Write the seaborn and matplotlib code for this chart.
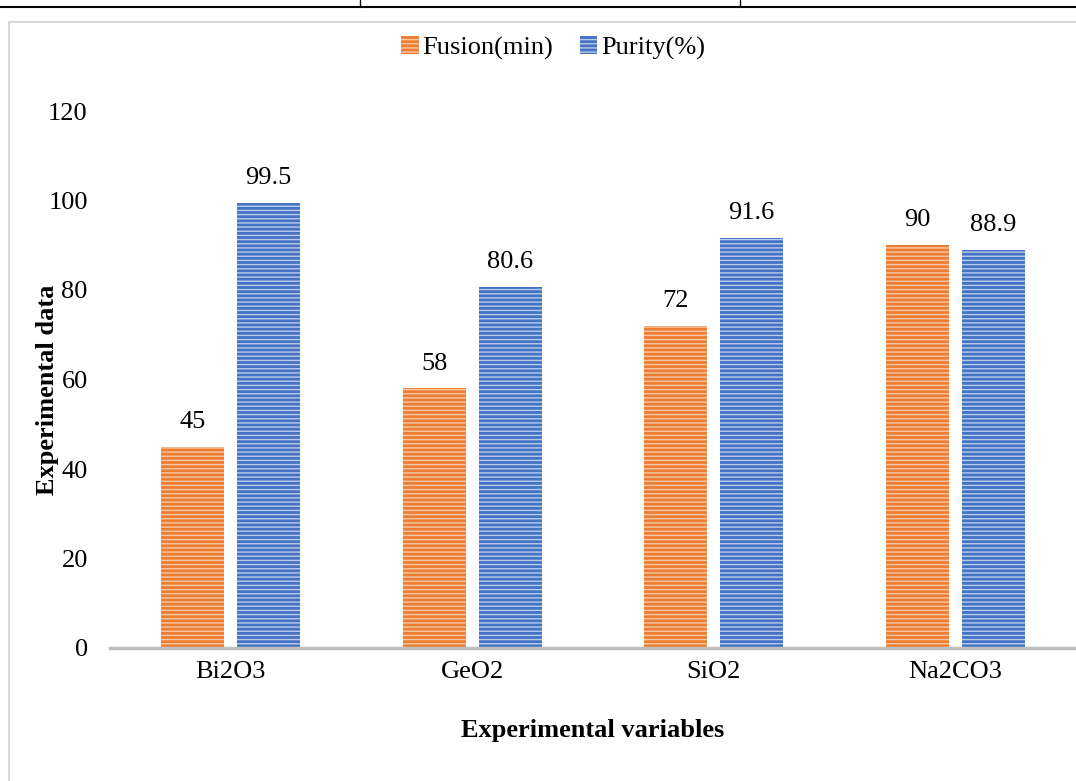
import matplotlib
matplotlib.use("Agg")
import matplotlib.pyplot as plt
import matplotlib.patches as mpatches
import seaborn as sns
import pandas as pd

categories = ["Bi2O3", "GeO2", "SiO2", "Na2CO3"]
fusion = [45, 58, 72, 90]
purity = [99.5, 80.6, 91.6, 88.9]
series_names = ["Fusion(min)", "Purity(%)"]
y_ticks = [0, 20, 40, 60, 80, 100, 120]

df = pd.DataFrame({
    "cat": categories * 2,
    "val": fusion + purity,
    "series": [series_names[0]] * 4 + [series_names[1]] * 4,
})

sns.set_theme(style="white")
plt.rcParams["font.family"] = ["Liberation Serif", "DejaVu Serif"]
plt.rcParams["hatch.linewidth"] = 1.0
plt.rcParams["text.color"] = "black"
plt.rcParams["axes.labelcolor"] = "black"
plt.rcParams["xtick.color"] = "black"
plt.rcParams["ytick.color"] = "black"

FS = 19

fig = plt.figure(figsize=(10.76, 7.81), dpi=100)
ax = fig.add_axes([110 / 1076, 1 - 648 / 781, 966 / 1076, (648 - 111) / 781])

colors = ["#ED7D31", "#4472C4"]
hatch_colors = ["#F8C9A8", "#B9CBEA"]
sns.barplot(data=df, x="cat", y="val", hue="series", palette=colors,
            width=0.628, gap=0.172, ax=ax, legend=False, saturation=1)

for container, hc in zip(ax.containers, hatch_colors):
    for bar in container:
        bar.set_hatch("----")
        bar.set_edgecolor(hc)
        bar.set_linewidth(0)
    ax.bar_label(container, fmt="%g", padding=10, fontsize=FS, color="black")

ax.set_ylim(0, 120)
ax.set_xlim(-0.5, 3.5)
ax.set_yticks(y_ticks)
ax.tick_params(axis="both", length=0, labelsize=FS, labelcolor="black")
ax.tick_params(axis="y", pad=16)
ax.tick_params(axis="x", pad=9)
for s in ["top", "right", "left"]:
    ax.spines[s].set_visible(False)
ax.spines["bottom"].set_color("#BFBFBF")
ax.spines["bottom"].set_linewidth(2.5)
ax.grid(False)

ax.set_xlabel("Experimental variables", fontsize=FS, fontweight="bold", labelpad=26, color="black")
ax.set_ylabel("Experimental data", fontsize=FS, fontweight="bold", color="black")
ax.yaxis.set_label_coords(-0.053, 0.48)

handles = [mpatches.Patch(facecolor=c, edgecolor=hc, hatch="----", linewidth=0, label=n)
           for c, hc, n in zip(colors, hatch_colors, series_names)]
fig.legend(handles=handles, loc="center", bbox_to_anchor=(0.514, 1 - 48 / 781), ncol=2,
           frameon=False, fontsize=FS, handlelength=0.65, handleheight=0.65,
           handletextpad=0.15, columnspacing=1.0, labelcolor="black")

# chart border and table remnant at top
fig.add_artist(plt.Line2D([9 / 1076, 9 / 1076], [0, 1 - 22 / 781], color="#D9D9D9", lw=1.5))
fig.add_artist(plt.Line2D([9 / 1076, 1], [1 - 22 / 781, 1 - 22 / 781], color="#D9D9D9", lw=1.5))
fig.add_artist(plt.Line2D([0, 1], [1 - 7 / 781, 1 - 7 / 781], color="black", lw=1.5))
for xp in [360, 740]:
    fig.add_artist(plt.Line2D([xp / 1076, xp / 1076], [1 - 7 / 781, 1], color="black", lw=1))

fig.savefig("out.png", dpi=100)
